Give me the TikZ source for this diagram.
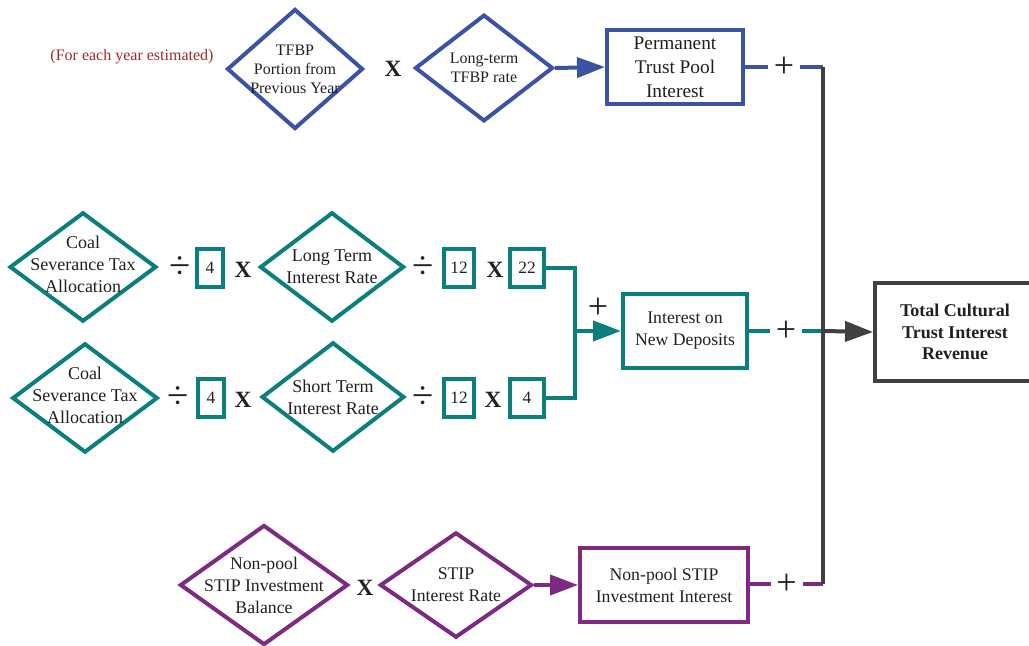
\documentclass[tikz,border=0pt]{standalone}
\usepackage{fontspec}
\setmainfont{Liberation Serif}
\usetikzlibrary{arrows.meta,shapes.geometric}
\definecolor{cblue}{HTML}{3A53A4}
\definecolor{cteal}{HTML}{0B7F7E}
\definecolor{cpurp}{HTML}{7D2A83}
\definecolor{cgray}{HTML}{404040}
\definecolor{cred}{HTML}{9E2A2B}
\definecolor{txt}{HTML}{231F20}
\begin{document}
\begin{tikzpicture}[x=0.75pt,y={(0,-0.75pt)},
  lw/.style={line width=3pt},
  dia/.style={shape=diamond, draw=#1, line width=3pt, inner sep=0pt},
  dtxt/.style={align=center, text=txt, font=\fontsize{13.5}{16.5}\selectfont},
  sbox/.style={rectangle, draw=#1, line width=3pt, inner sep=0pt, align=center, text=txt},
  num/.style={sbox=cteal, font=\fontsize{13}{15}\selectfont},
  divop/.style={text=txt, font=\fontsize{29}{29}\selectfont, inner sep=0pt},
  mul/.style={text=txt, font=\bfseries\fontsize{17.5}{17.5}\selectfont, inner sep=0pt},
  plus/.style={fill=white, text=txt, font=\fontsize{27}{27}\selectfont, minimum width=24pt, inner sep=0pt},
  arr/.style={-{Triangle[length=21pt,width=15pt]}, line width=3pt, draw=#1}
]
\useasboundingbox (0,0) rectangle (1029,646);

% ---------- top (blue) row ----------
\node[text=cred, font=\fontsize{12}{14}\selectfont] (note) at (132,57) {(For each year estimated)};
\node[dia=cblue, minimum width=102pt, minimum height=90pt,
  label={[dtxt, font=\fontsize{12}{14.3}\selectfont]center:TFBP\\Portion from\\Previous Year}] (tfbp) at (295,69) {};
\node[mul] (x1) at (393,69) {X};
\node[dia=cblue, minimum width=103.5pt, minimum height=80pt,
  label={[dtxt, font=\fontsize{12}{14}\selectfont]center:Long-term\\TFBP rate}] (ltr) at (484,68) {};
\node[sbox=cblue, minimum width=102pt, minimum height=55.5pt, font=\fontsize{14.5}{18}\selectfont] (perm) at (675,67) {Permanent\\Trust Pool\\Interest};
\draw[arr=cblue] (ltr.east) -- (perm.west);

% ---------- middle (teal) rows ----------
\node[dia=cteal, minimum width=110pt, minimum height=82pt,
  label={[dtxt, yshift=2pt]center:Coal\\Severance Tax\\Allocation}] (coal1) at (83,267) {};
\node[divop] (dv1) at (180,268) {÷};
\node[num, minimum width=19pt, minimum height=29pt] (b41) at (210,268) {4};
\node[mul] (x2) at (243,270) {X};
\node[dia=cteal, minimum width=108pt, minimum height=82pt,
  label={[dtxt]center:Long Term\\Interest Rate}] (ltir) at (332,267) {};
\node[divop] (dv2) at (423,268) {÷};
\node[num, minimum width=22.5pt, minimum height=28.5pt] (b121) at (459,268) {12};
\node[mul] (x3) at (495,270) {X};
\node[num, minimum width=25pt, minimum height=28.5pt] (b22) at (527,268) {22};

\node[dia=cteal, minimum width=109pt, minimum height=82pt,
  label={[dtxt, yshift=2pt]center:Coal\\Severance Tax\\Allocation}] (coal2) at (85,398) {};
\node[divop] (dv3) at (178,398) {÷};
\node[num, minimum width=19pt, minimum height=29pt] (b42) at (211,398) {4};
\node[mul] (x4) at (243,400) {X};
\node[dia=cteal, minimum width=107pt, minimum height=82pt,
  label={[dtxt]center:Short Term\\Interest Rate}] (stir) at (333,397) {};
\node[divop] (dv4) at (423,398) {÷};
\node[num, minimum width=22.5pt, minimum height=28.5pt] (b122) at (459,398) {12};
\node[mul] (x5) at (493,400) {X};
\node[num, minimum width=25pt, minimum height=28.5pt] (b4b) at (527,398) {4};

\node[sbox=cteal, minimum width=93pt, minimum height=55pt, font=\fontsize{13.3}{16.5}\selectfont] (nd) at (685,331) {Interest on\\New Deposits};
\coordinate (jt) at (575,331);
\draw[cteal, lw] (b22.east) -| (jt) (b4b.east) -| (jt);
\draw[arr=cteal] (jt) -- (nd.west);
\node[text=txt, font=\fontsize{27}{27}\selectfont, inner sep=0pt] (pl) at (598,308) {+};

% ---------- bottom (purple) row ----------
\node[dia=cpurp, minimum width=126pt, minimum height=90pt,
  label={[dtxt, font=\fontsize{13.3}{16.5}\selectfont]center:Non-pool\\STIP Investment\\Balance}] (npb) at (264,585) {};
\node[mul] (x6) at (365,588) {X};
\node[dia=cpurp, minimum width=114pt, minimum height=79pt,
  label={[dtxt, font=\fontsize{13.3}{16.5}\selectfont]center:STIP\\Interest Rate}] (stip) at (456,585) {};
\node[sbox=cpurp, minimum width=126pt, minimum height=55.5pt, font=\fontsize{13.3}{16.5}\selectfont] (npi) at (664,585) {Non-pool STIP\\Investment Interest};
\draw[arr=cpurp] (stip.east) -- (npi.west);

% ---------- right side ----------
\coordinate (jp) at (823,67);
\coordinate (jn) at (823,331);
\coordinate (jq) at (823,584);
\draw[cblue, lw] (perm.east) -- node[plus] (p1) {+} (jp);
\draw[cteal, lw] (nd.east) -- node[plus] (p2) {+} (jn);
\draw[cpurp, lw] (npi.east |- jq) -- node[plus] (p3) {+} (jq);
\draw[cgray, lw] (jp) -- (jq);
\node[sbox=cgray, minimum width=120pt, minimum height=74pt, font=\bfseries\fontsize{13.5}{16}\selectfont] (tot) at (955,332) {Total Cultural\\Trust Interest\\Revenue};
\draw[arr=cgray] (jn) -- (tot.west);
\end{tikzpicture}
\end{document}
